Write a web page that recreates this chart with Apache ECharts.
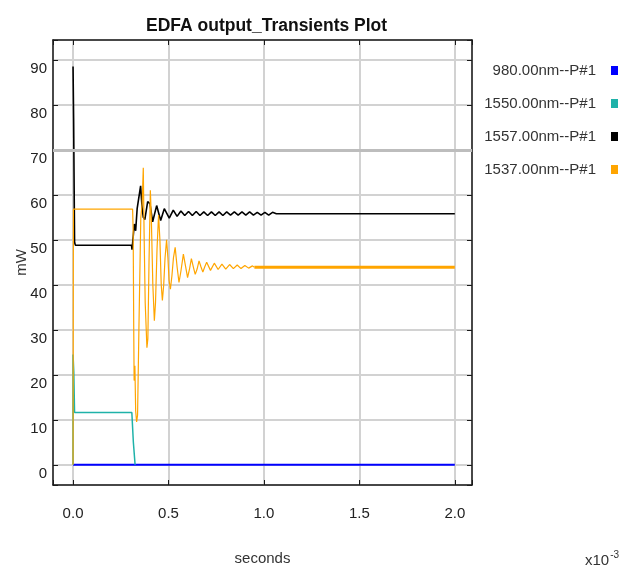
<!DOCTYPE html>
<html>
<head>
    <meta charset="utf-8">
    <title>EDFA output_Transients Plot</title>
    <style>
        html, body { margin: 0; padding: 0; background: #fff; }
        #main { width: 635px; height: 577px; }
    </style>
</head>
<body>
    <div id="main"></div>
    <script src="https://cdn.jsdelivr.net/npm/echarts@6.0.0/dist/echarts.min.js"></script>
    <script>
    // time in ms (axis shows x10^-3 s), power in mW
    var names = ['980.00nm--P#1', '1550.00nm--P#1', '1557.00nm--P#1', '1537.00nm--P#1'];
    var colors = ['#0000ff', '#1fb2a9', '#000000', '#ffa500'];

    var t980 = [0, 2.0];
    var p980 = [0, 0];

    var t1550 = [0, 0, 0.004, 0.008, 0.308, 0.316, 0.325];
    var p1550 = [0, 24.5, 20.5, 11.6, 11.6, 5, 0];

    var t1557 = [0, 0.003, 0.008, 0.012, 0.306, 0.309, 0.318, 0.321, 0.328, 0.336, 0.354, 0.362, 0.368, 0.376,
        0.391, 0.403, 0.417, 0.438, 0.459, 0.478, 0.504, 0.525,
        0.545, 0.565, 0.585, 0.605, 0.625, 0.645, 0.665, 0.685, 0.705, 0.725, 0.745, 0.765, 0.785,
        0.805, 0.825, 0.845, 0.865, 0.885, 0.905, 0.925, 0.945, 0.965, 0.985, 1.005, 1.025, 1.045, 1.065, 2.0];
    var p1557 = [88.5, 77, 49.5, 48.8, 48.8, 47.8, 47.8, 53.5, 52, 57, 62, 57, 55, 54.5,
        58.5, 58, 54, 57.6, 54.3, 56.9, 54.8, 56.6,
        55.2, 56.4, 55.4, 56.3, 55.4, 56.3, 55.4, 56.2, 55.4, 56.2, 55.4, 56.2, 55.4,
        56.2, 55.5, 56.2, 55.5, 56.2, 55.5, 56.2, 55.5, 56.1, 55.5, 56.1, 55.5, 56.1, 55.8, 55.8];

    var t1537 = [0, 0.002, 0.312, 0.315, 0.318, 0.32, 0.324, 0.328, 0.333, 0.338, 0.345, 0.355, 0.362, 0.368,
        0.372, 0.378, 0.387, 0.392, 0.398, 0.405, 0.41, 0.418, 0.426, 0.432, 0.44, 0.448, 0.455, 0.462,
        0.468, 0.475, 0.482, 0.49, 0.497, 0.503, 0.51, 0.518, 0.526, 0.535, 0.545, 0.555, 0.565, 0.578,
        0.59, 0.6, 0.61, 0.62, 0.63, 0.64, 0.65, 0.66, 0.67, 0.68, 0.69, 0.7, 0.72, 0.74, 0.76, 0.78,
        0.8, 0.82, 0.84, 0.86, 0.88, 0.9, 0.92, 0.94, 0.95];
    var p1537 = [0, 56.8, 56.8, 52, 30, 18.7, 22, 12, 9.5, 11, 30, 55, 58, 66,
        52, 36, 26, 28, 45, 61, 55, 40, 32, 36, 48, 55.5, 50, 40,
        36.5, 40, 46, 50, 46, 41, 39, 42, 46, 48.3, 44, 40.5, 43, 46.8,
        44, 41.6, 43.5, 45.8, 44, 42.3, 43.5, 45.3, 44, 42.8, 44, 45, 43.2, 44.8, 43.4, 44.6,
        43.5, 44.5, 43.6, 44.4, 43.6, 44.3, 43.7, 44.2, 43.9];
    // settled tail of the 1537 nm channel
    var t1537Tail = [0.95, 2.0];
    var p1537Tail = [43.9, 43.9];

    var markGrid = [70];

    function pairs(t, p) {
        return t.map(function (v, i) { return [v, p[i]]; });
    }

    var font = '"Liberation Sans", Arial, sans-serif';

    function xLabel(v) {
        return Math.abs(v * 2 - Math.round(v * 2)) < 1e-6 ? v.toFixed(1) : '';
    }
    function yLabel(v) {
        return Math.abs(v / 10 - Math.round(v / 10)) < 1e-6 ? String(Math.round(v)) : '';
    }

    var frameLine = { show: true, onZero: false, lineStyle: { color: '#1a1a1a', width: 1.5 } };
    var frameTick = { show: true, inside: true, length: 5, lineStyle: { color: '#1a1a1a', width: 1 } };

    var myChart = echarts.init(document.getElementById('main'));

    var option = {
        animation: false,
        backgroundColor: '#fff',
        color: colors,
        title: {
            text: 'EDFA output_Transients Plot',
            left: 141,
            top: 12,
            textStyle: { fontFamily: font, fontWeight: 'bold', fontSize: 17.5, color: '#111' }
        },
        legend: {
            data: names,
            orient: 'vertical',
            align: 'right',
            right: 12,
            top: 58,
            itemWidth: 7,
            itemHeight: 9,
            itemGap: 18,
            icon: 'rect',
            selectedMode: false,
            textStyle: { fontFamily: font, fontSize: 15, color: '#333', padding: [0, 10, 0, 0] }
        },
        grid: { left: 53, right: 163, top: 40, bottom: 92, outerBoundsMode: 'none', containLabel: false },
        xAxis: [{
            type: 'value',
            min: -0.105,
            max: 2.09,
            splitNumber: 4,
            position: 'bottom',
            name: 'seconds',
            nameLocation: 'middle',
            nameGap: 66,
            nameMoveOverlap: false,
            nameTextStyle: { fontFamily: font, fontSize: 15, color: '#333' },
            axisLine: frameLine,
            axisTick: frameTick,
            axisLabel: { formatter: xLabel, margin: 21, fontFamily: font, fontSize: 15, color: '#222' },
            splitLine: { show: true, lineStyle: { color: '#d2d2d2', width: 2 } }
        }, {
            type: 'value',
            min: -0.105,
            max: 2.09,
            splitNumber: 4,
            position: 'top',
            axisLine: frameLine,
            axisTick: frameTick,
            axisLabel: { show: false },
            splitLine: { show: false }
        }],
        yAxis: [{
            type: 'value',
            min: -4.5,
            max: 94.4,
            splitNumber: 10,
            position: 'left',
            name: 'mW',
            nameLocation: 'middle',
            nameRotate: 90,
            nameGap: 24,
            nameMoveOverlap: false,
            nameTextStyle: { fontFamily: font, fontSize: 15, color: '#333' },
            axisLine: frameLine,
            axisTick: frameTick,
            axisLabel: { formatter: yLabel, margin: 6, verticalAlign: 'top', padding: [2, 0, 0, 0], fontFamily: font, fontSize: 15, color: '#222' },
            splitLine: { show: true, lineStyle: { color: '#d2d2d2', width: 2 } }
        }, {
            type: 'value',
            min: -4.5,
            max: 94.4,
            splitNumber: 10,
            position: 'right',
            axisLine: frameLine,
            axisTick: frameTick,
            axisLabel: { show: false },
            splitLine: { show: false }
        }],
        graphic: [{
            type: 'text',
            left: 585,
            top: 550,
            style: {
                text: '{b|x10}{s|-3}',
                rich: {
                    b: { fontFamily: font, fontSize: 15, fill: '#333', verticalAlign: 'bottom' },
                    s: { fontFamily: font, fontSize: 10, fill: '#333', verticalAlign: 'top', padding: [0, 0, 8, 1] }
                }
            }
        }],
        series: [{
            name: names[0],
            type: 'line',
            showSymbol: false,
            data: pairs(t980, p980),
            lineStyle: { width: 2, color: colors[0] },
            markLine: {
                silent: true,
                symbol: 'none',
                label: { show: false },
                lineStyle: { color: '#bdbdbd', width: 3, type: 'solid' },
                data: markGrid.map(function (v) { return { yAxis: v }; })
            },
            z: 3
        }, {
            name: names[1],
            type: 'line',
            showSymbol: false,
            data: pairs(t1550, p1550),
            lineStyle: { width: 1.5, color: colors[1] }
        }, {
            name: names[2],
            type: 'line',
            showSymbol: false,
            data: pairs(t1557, p1557),
            lineStyle: { width: 1.6, color: colors[2] }
        }, {
            name: names[3],
            type: 'line',
            showSymbol: false,
            data: pairs(t1537, p1537),
            lineStyle: { width: 1.2, color: colors[3] }
        }, {
            name: names[3],
            type: 'line',
            showSymbol: false,
            data: pairs(t1537Tail, p1537Tail),
            lineStyle: { width: 3, color: colors[3] }
        }]
    };
    myChart.setOption(option);
    window.onresize = myChart.resize;
    </script>
</body>
</html>
